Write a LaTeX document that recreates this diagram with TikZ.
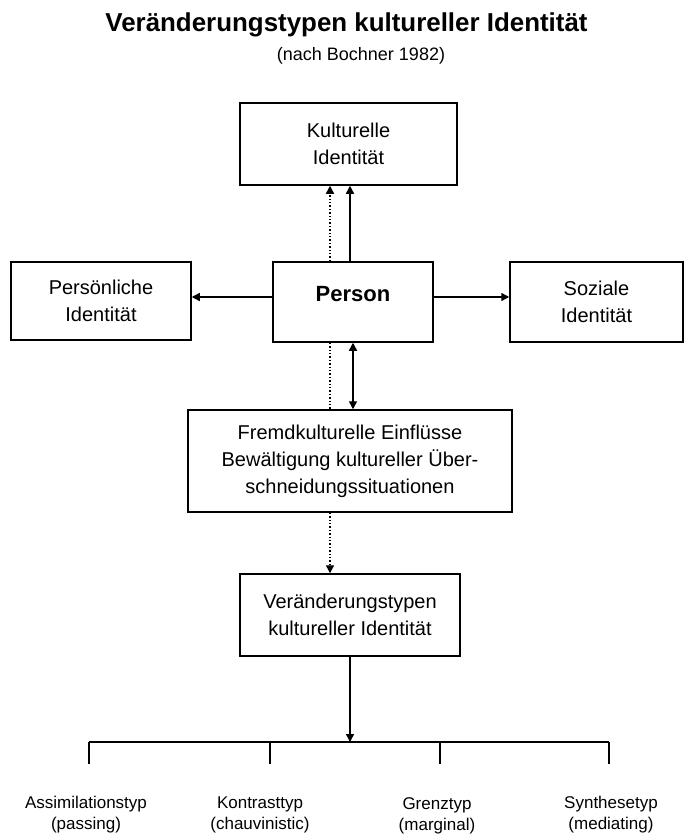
\documentclass[tikz,border=0pt]{standalone}
\usepackage{fontspec}
\setmainfont{Liberation Sans}
\usetikzlibrary{arrows.meta}
\tikzset{
	kasten/.style={draw, line width=1.5pt, align=center, font=\fontsize{20}{27}\selectfont, inner sep=0pt},
	pfeil/.style={line width=1.4pt, -{Triangle[length=8pt,width=8pt]}},
	punkte/.style={line width=1.4pt, dotted},
	linie/.style={line width=1.4pt},
	typ/.style={align=center, font=\fontsize{17}{21}\selectfont, inner sep=0pt}
}
\begin{document}
\begin{tikzpicture}[x=1pt,y=-1pt]
				\useasboundingbox (0,0) rectangle (693,837);
				\node[anchor=base, font=\bfseries\fontsize{25.9}{30}\selectfont] (titel) at (346.5,32) {Veränderungstypen kultureller Identität};
				\node[anchor=base, font=\fontsize{18}{22}\selectfont] (quelle) at (361,61) {(nach Bochner 1982)};
				
				\node[kasten, minimum width=217pt, minimum height=82pt] (kult) at (348.5,144) {Kulturelle\\Identität};
				\node[kasten, minimum width=180pt, minimum height=78pt] (pers) at (101,301) {Persönliche\\Identität};
				\node[kasten, font=\bfseries\fontsize{22}{26}\selectfont, minimum width=160pt, minimum height=80pt, text height=16pt, text depth=18pt] (person) at (353,302) {Person};
				\node[kasten, minimum width=173pt, minimum height=80pt] (soz) at (596.5,302) {Soziale\\Identität};
				\node[kasten, minimum width=324pt, minimum height=102pt] (fremd) at (350,461) {Fremdkulturelle Einflüsse\\Bewältigung kultureller Über-\\schneidungssituationen};
				\node[kasten, minimum width=220pt, minimum height=82pt] (veraend) at (350,615) {Veränderungstypen\\kultureller Identität};
				
				\coordinate[xshift=-23pt] (po) at (person.north);
				\coordinate[xshift=-3pt] (pn) at (person.north);
				\coordinate[xshift=-23pt] (pu) at (person.south);
				\coordinate (pm) at (person.south);
				\coordinate[yshift=5pt] (pl) at (person.west);
				\coordinate[yshift=5pt] (pr) at (person.east);
				\coordinate[xshift=-20pt] (fu) at (fremd.south);
				\coordinate (balken) at (350,742);
				\coordinate (ta) at (89,742);
				\coordinate (tb) at (270,742);
				\coordinate (tc) at (440,742);
				\coordinate (td) at (609,742);
				
				\draw[punkte, -{Triangle[length=8pt,width=8pt]}] (po) -- (po |- kult.south);
				\draw[pfeil] (pn) -- (pn |- kult.south);
				\draw[pfeil] (pl) -- (pl -| pers.east);
				\draw[pfeil] (pr) -- (pr -| soz.west);
				\draw[punkte] (pu) -- (pu |- fremd.north);
				\draw[pfeil, {Triangle[length=8pt,width=8pt]}-{Triangle[length=8pt,width=8pt]}] (pm) -- (pm |- fremd.north);
				\draw[punkte, -{Triangle[length=8pt,width=8pt]}] (fu) -- (fu |- veraend.north);
				\draw[pfeil] (veraend.south) -- (balken);
				
				\node[typ] (assim) at (86,815) {Assimilationstyp\\(passing)};
				\node[typ] (kontrast) at (260,815) {Kontrasttyp\\(chauvinistic)};
				\node[typ] (grenz) at (437,816) {Grenztyp\\(marginal)};
				\node[typ] (synth) at (611,815) {Synthesetyp\\(mediating)};
				
				\draw[linie] (ta) -- (td);
				\foreach \t in {ta,tb,tc,td}
					\draw[linie] (\t) -- ++(0,22);
\end{tikzpicture}
\end{document}
